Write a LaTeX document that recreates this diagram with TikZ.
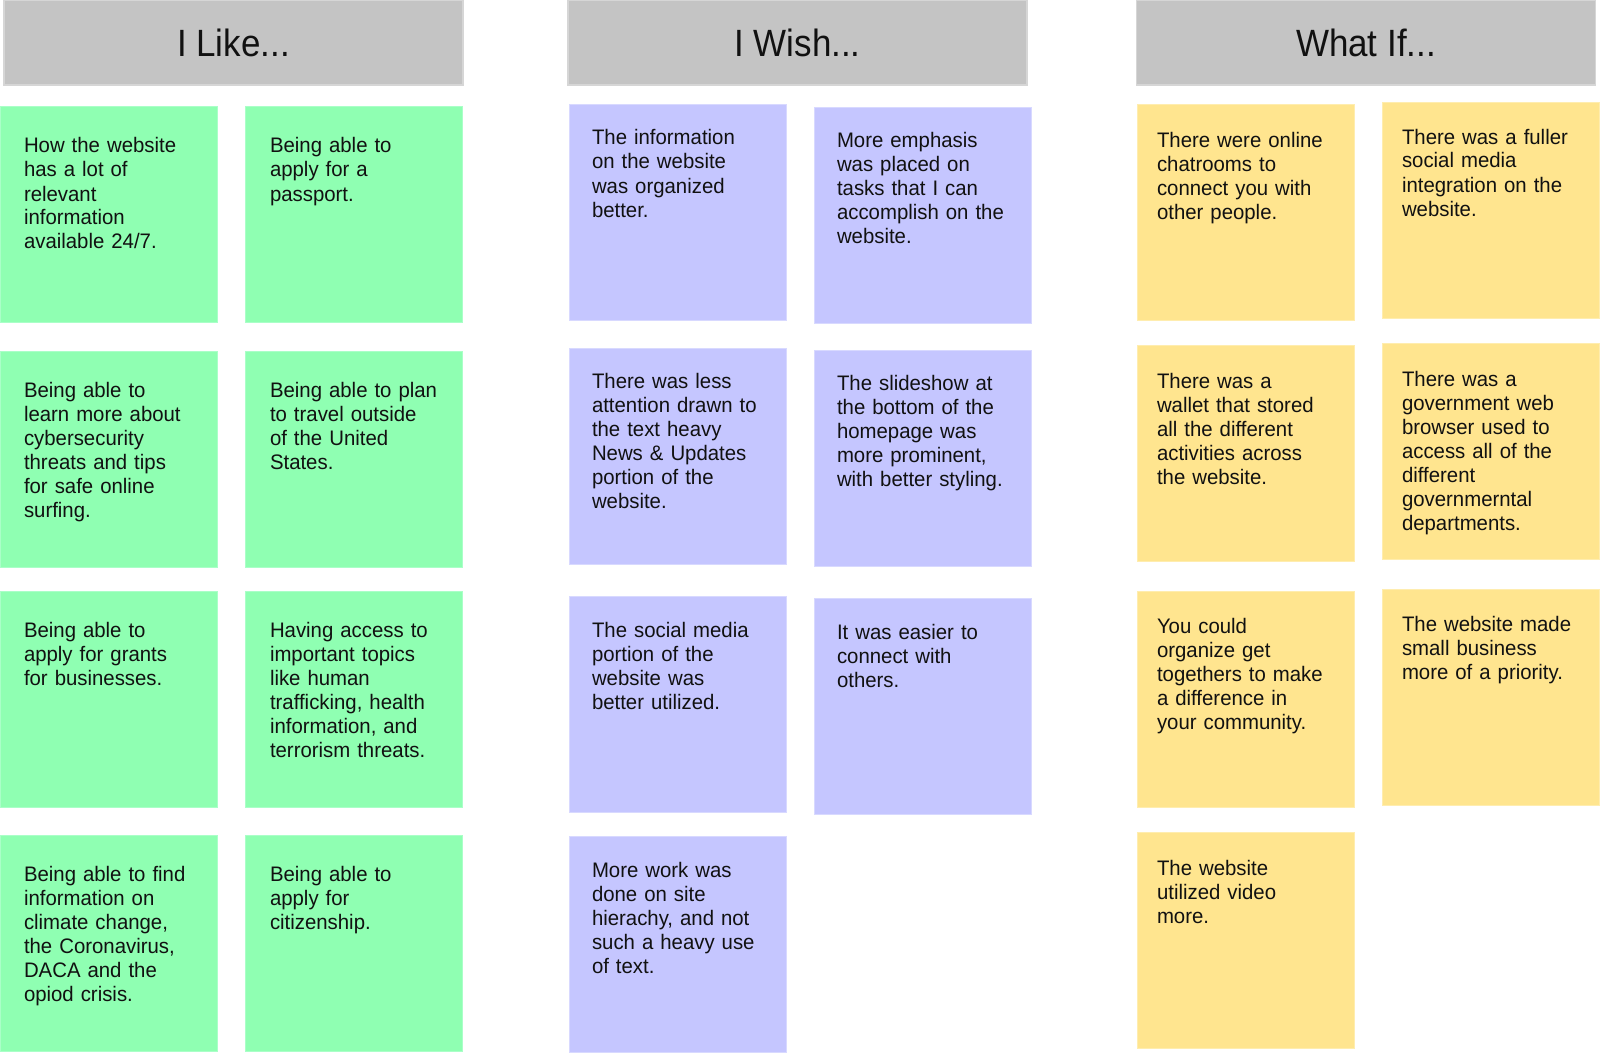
\documentclass[tikz,border=0pt]{standalone}
\usepackage{fontspec}
\setmainfont{Liberation Sans}
\newfontfamily\bodyfont[FakeStretch=0.97]{Liberation Sans}
\newfontfamily\headfont[FakeStretch=0.92]{Liberation Sans}
\definecolor{hdrfill}{RGB}{196,196,196}
\definecolor{hdrline}{RGB}{214,214,214}
\definecolor{greenfill}{RGB}{143,255,178}
\definecolor{greenline}{RGB}{170,255,200}
\definecolor{purplefill}{RGB}{197,198,255}
\definecolor{purpleline}{RGB}{216,217,255}
\definecolor{yellowfill}{RGB}{255,229,143}
\definecolor{yellowline}{RGB}{255,237,175}
\definecolor{ink}{RGB}{17,17,17}
\tikzset{
  header/.style={fill=hdrfill, draw=hdrline, line width=1.2pt, inner sep=0pt, outer sep=0pt,
    minimum width=459pt, minimum height=85pt, text height=28pt, text depth=0pt,
    text=ink, font=\headfont\fontsize{38pt}{44pt}\selectfont},
  cardbase/.style={inner sep=0pt, outer sep=0pt, minimum width=217pt, minimum height=216pt,
    anchor=north west, line width=1pt},
  greencard/.style={cardbase, fill=greenfill, draw=greenline},
  purplecard/.style={cardbase, fill=purplefill, draw=purpleline},
  yellowcard/.style={cardbase, fill=yellowfill, draw=yellowline},
  notetext/.style={inner sep=0pt, outer sep=0pt, anchor=north west, text width=215pt,
    align=left, text=ink, font=\bodyfont\fontsize{21pt}{24pt}\selectfont}
}
% #1 name, #2 style, #3 left, #4 top, #5 text dx, #6 first baseline dy, #7 text
\newcommand\stickynote[7]{%
  \node[#2] (#1) at (#3+0.5,#4+0.5) {};
  \node[notetext] (#1-text) at (#3+#5,#4+#6-16) {\rule{0pt}{16pt}#7};
}
\begin{document}
\begin{tikzpicture}[x=1pt,y=-1pt]
\useasboundingbox (0,0) rectangle (1600,1054);

% headers
\node[header] (like) at (233.5,42.5) {I Like...};
\node[header] (wish) at (797.5,42.5) {I Wish...};
\node[header] (whatif) at (1366,42.5) {What If...};

% I Like
\stickynote{g11}{greencard}{0}{106}{24}{47}{How the website\\has a lot of\\relevant\\information\\available 24/7.}
\stickynote{g12}{greencard}{245}{106}{25}{47}{Being able to\\apply for a\\passport.}
\stickynote{g21}{greencard}{0}{351}{24}{46}{Being able to\\learn more about\\cybersecurity\\threats and tips\\for safe online\\surfing.}
\stickynote{g22}{greencard}{245}{351}{25}{46}{Being able to plan\\to travel outside\\of the United\\States.}
\stickynote{g31}{greencard}{0}{591}{24}{46}{Being able to\\apply for grants\\for businesses.}
\stickynote{g32}{greencard}{245}{591}{25}{46}{Having access to\\important topics\\like human\\trafficking, health\\information, and\\terrorism threats.}
\stickynote{g41}{greencard}{0}{835}{24}{46}{Being able to find\\information on\\climate change,\\the Coronavirus,\\DACA and the\\opiod crisis.}
\stickynote{g42}{greencard}{245}{835}{25}{46}{Being able to\\apply for\\citizenship.}

% I Wish
\stickynote{p11}{purplecard}{569}{104}{23}{41}{The information\\on the website\\was organized\\better.}
\stickynote{p12}{purplecard}{814}{107}{23}{40}{More emphasis\\was placed on\\tasks that I can\\accomplish on the\\website.}
\stickynote{p21}{purplecard}{569}{348}{23}{40}{There was less\\attention drawn to\\the text heavy\\News \& Updates\\portion of the\\website.}
\stickynote{p22}{purplecard}{814}{350}{23}{40}{The slideshow at\\the bottom of the\\homepage was\\more prominent,\\with better styling.}
\stickynote{p31}{purplecard}{569}{596}{23}{41}{The social media\\portion of the\\website was\\better utilized.}
\stickynote{p32}{purplecard}{814}{598}{23}{41}{It was easier to\\connect with\\others.}
\stickynote{p41}{purplecard}{569}{836}{23}{41}{More work was\\done on site\\hierachy, and not\\such a heavy use\\of text.}

% What If
\stickynote{y11}{yellowcard}{1137}{104}{20}{43}{There were online\\chatrooms to\\connect you with\\other people.}
\stickynote{y12}{yellowcard}{1382}{102}{20}{42}{There was a fuller\\social media\\integration on the\\website.}
\stickynote{y21}{yellowcard}{1137}{345}{20}{43}{There was a\\wallet that stored\\all the different\\activities across\\the website.}
\stickynote{y22}{yellowcard}{1382}{343}{20}{43}{There was a\\government web\\browser used to\\access all of the\\different\\governmerntal\\departments.}
\stickynote{y31}{yellowcard}{1137}{591}{20}{42}{You could\\organize get\\togethers to make\\a difference in\\your community.}
\stickynote{y32}{yellowcard}{1382}{589}{20}{42}{The website made\\small business\\more of a priority.}
\stickynote{y41}{yellowcard}{1137}{832}{20}{43}{The website\\utilized video\\more.}
\end{tikzpicture}
\end{document}
